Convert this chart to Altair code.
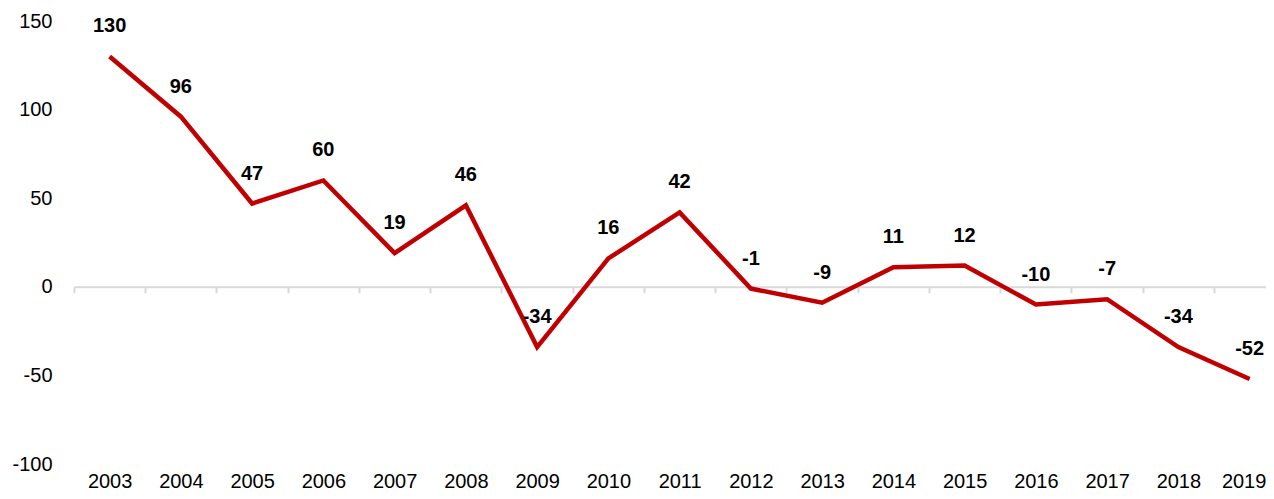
import altair as alt
import pandas as pd

years = list(range(2003, 2020))
values = [130, 96, 47, 60, 19, 46, -34, 16, 42, -1, -9, 11, 12, -10, -7, -34, -52]
y_ticks = [-100, -50, 0, 50, 100, 150]
band_edges = [y - 0.5 for y in years] + [years[-1] + 0.5]

df = pd.DataFrame({"year": years, "value": values,
                   "label": [str(v) for v in values]})

W, H = 1192, 443
x_dom = [2002.5, 2002.5 + W / 71.25]
FONT = "Liberation Sans"

x_scale = alt.Scale(domain=x_dom, nice=False, zero=False)
y_scale = alt.Scale(domain=[-100, 150], nice=False, zero=False)

line = alt.Chart(df).mark_line(color="#C00000", strokeWidth=4.5).encode(
    x=alt.X("year:Q", scale=x_scale, axis=alt.Axis(
        orient="bottom", offset=-H * 0.4, values=band_edges, labels=False,
        grid=False, domain=True, domainColor="#d9d9d9", domainWidth=2,
        ticks=True, tickColor="#d9d9d9", tickSize=6, tickWidth=2, title=None)),
    y=alt.Y("value:Q", scale=y_scale, axis=alt.Axis(
        values=y_ticks, grid=False, domain=False, ticks=False, labelPadding=22,
        labelExpr="toString(datum.value)",
        labelFont=FONT, labelFontSize=20, labelColor="#000000", title=None)),
)

text = alt.Chart(df).mark_text(
    font=FONT, fontSize=20, fontWeight="bold", color="#000000",
    baseline="middle", align="center", dy=-30
).encode(
    x=alt.X("year:Q", scale=x_scale, axis=alt.Axis(
        orient="bottom", values=years, format="d", grid=False, domain=False,
        ticks=False, labelPadding=7, labelFont=FONT, labelFontSize=20,
        labelOffset={"condition": {"test": f"datum.value == {years[-1]}", "value": -6}, "value": 0},
        labelColor="#000000", title=None)),
    y=alt.Y("value:Q", scale=y_scale, axis=None),
    text=alt.Text("label:N"),
)

chart = alt.layer(line, text).resolve_axis(x="independent", y="independent").properties(
    width=W, height=H,
    autosize=alt.AutoSizeParams(type="none"),
    padding={"left": 66, "top": 13, "right": 0, "bottom": 27},
).configure_view(stroke=None)

chart.save("out.html", embed_options={"renderer": "svg", "actions": False})
